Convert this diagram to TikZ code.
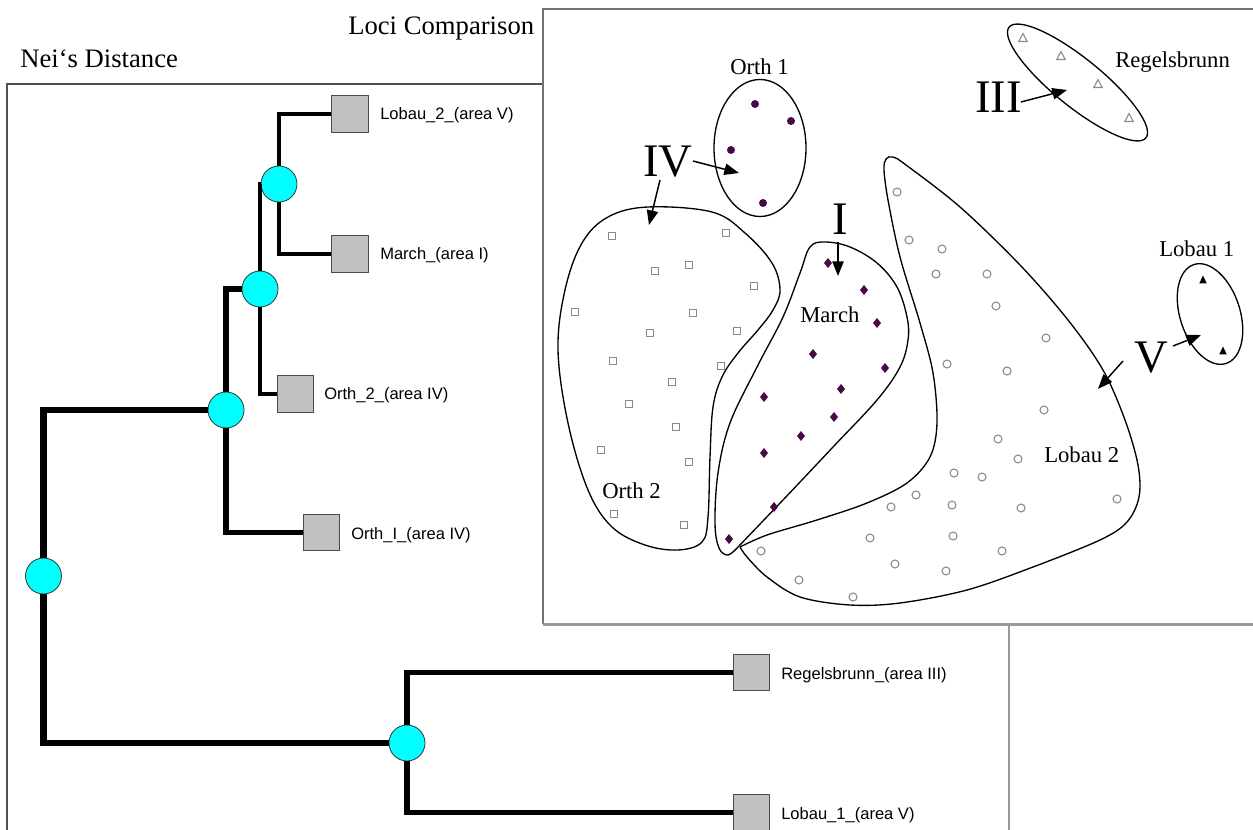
\documentclass[tikz,border=0pt]{standalone}
\usepackage{fontspec}
\setmainfont{Liberation Serif}
\newfontfamily\arialf{Liberation Sans}
\usetikzlibrary{arrows.meta}
\definecolor{nodecyan}{HTML}{00FFFF}
\definecolor{leafgray}{HTML}{C0C0C0}
\definecolor{mkgray}{HTML}{8A8A8A}
\definecolor{dotpurple}{HTML}{4A0A4A}
\definecolor{framedark}{HTML}{505050}
\definecolor{framelight}{HTML}{9A9A9A}
\begin{document}
\begin{tikzpicture}[x=0.75pt,y=-0.75pt,
  junction/.style={circle, fill=nodecyan, draw=black!80, line width=0.6pt, minimum size=27pt, inner sep=0pt},
  leaf/.style={rectangle, fill=leafgray, draw=black!70, line width=0.7pt, minimum size=27.5pt, inner sep=0pt},
  leaflabel/.style={font=\arialf\fontsize{12.4}{14}\selectfont, anchor=base west, inner sep=0pt},
  branchA/.style={line width=4.9pt},
  branchB/.style={line width=4.2pt},
  branchC/.style={line width=3.6pt},
  titletext/.style={font=\fontsize{20}{24}\selectfont, anchor=base west, inner sep=0pt},
  grplabel/.style={font=\fontsize{17}{20}\selectfont, anchor=base west, inner sep=0pt},
  numeral/.style={font=\fontsize{35}{40}\selectfont, anchor=base west, inner sep=0pt},
  callout/.style={-{Triangle[length=11pt,width=8.5pt]}, line width=1.1pt},
  hull/.style={line width=1.0pt},
  openmark/.style={draw=mkgray, line width=0.8pt},
]
\useasboundingbox (0,0) rectangle (1253,830);
\fill[white] (0,0) rectangle (1253,830);

% ---------- frames ----------
\draw[framedark, line width=0.8pt] (543,84) -- (7,84) -- (7,832);
\draw[framelight, line width=1pt] (1009,624) -- (1009,832);
\draw[framedark!80, line width=1pt] (1255,9) -- (543,9) -- (543,624);
\draw[framelight, line width=1.6pt] (543,624.5) -- (1255,624.5);

% ---------- titles ----------
\node[titletext] (nei) at (20,68) {Nei‘s Distance};
\node[titletext] (loci) at (348,35) {Loci Comparison};

% ---------- tree ----------
\node[junction] (R) at (43.5,576) {};
\node[junction] (A) at (226,410) {};
\node[junction] (B) at (260,289) {};
\node[junction] (C) at (279,184) {};
\node[junction] (D) at (407,743) {};

\node[leaf] (l1) at (350,114) {};
\node[leaf] (l2) at (350,254) {};
\node[leaf] (l3) at (295.5,394) {};
\node[leaf] (l4) at (321.5,532.5) {};
\node[leaf] (l5) at (751.5,672.5) {};
\node[leaf] (l6) at (751.5,812.5) {};

\node[leaflabel] (t1) at (380,120) {Lobau\_2\_(area V)};
\node[leaflabel] (t2) at (380,260) {March\_(area I)};
\node[leaflabel] (t3) at (324,400) {Orth\_2\_(area IV)};
\node[leaflabel] (t4) at (351,539) {Orth\_I\_(area IV)};
\node[leaflabel] (t5) at (781,679) {Regelsbrunn\_(area III)};
\node[leaflabel] (t6) at (781,819) {Lobau\_1\_(area V)};

\draw[branchA] (R) |- (A);
\draw[branchA] (R) |- (D);
\draw[branchB] (A) |- (B);
\draw[branchB] (A) |- (l4);
\draw[branchC] (B) |- (C);
\draw[branchC] (B) |- (l3);
\draw[branchC] (C) |- (l1);
\draw[branchC] (C) |- (l2);
\draw[branchB] (D) |- (l5);
\draw[branchB] (D) |- (l6);

% ---------- MDS plot: hulls ----------
% Orth 1
\draw[hull] (760,148) ellipse[x radius=46, y radius=68.5];
% Regelsbrunn
\draw[hull, rotate around={-39:(1077.5,82.5)}] (1077.5,82.5) ellipse[x radius=88, y radius=24];
% Lobau 1
\draw[hull, rotate around={18:(1210,314)}] (1210,314) ellipse[x radius=30, y radius=52];
% Orth 2
\draw[hull] plot[smooth cycle, tension=0.6] coordinates {
  (648,207) (712,212) (745,233) (772,263) (780,290) (773,310) (758,330)
  (738,353) (722,377) (713,407) (710,457) (708,517) (702,542) (678,550)
  (645,545) (612,527) (588,490) (568,423) (558,350) (565,290) (582,243) (608,217)};
% March
\draw[hull] plot[smooth, tension=0.6] coordinates {
  (738,547) (783,500) (833,447) (877,400) (900,367) (908,340) (907,317)
  (897,287) (877,263) (850,247) (825,242) (810,247) (800,273) (783,317)
  (757,367) (730,423) (718,473) (715,523) (719,548) (728,555) (738,547)};
% Lobau 2
\draw[hull] plot[smooth, tension=0.55] coordinates {
  (740,547) (767,535) (817,520) (867,503) (907,483) (930,457) (937,423)
  (933,373) (920,323) (900,257) (888,200) (884,170) (886,159) (893,157)
  (906,165) (960,207) (1020,265) (1068,320) (1103,370) (1125,420)
  (1138,465) (1139,497) (1127,522) (1100,540) (1033,567) (967,590) (900,603)
  (850,605) (800,597) (767,577) (747,557) (740,547)};

% ---------- markers ----------
\foreach \x/\y in {612/236,726/233,655/271,689/265,754/286,575/312,693/313,650/333,737/331,
                   613/361,721/366,672/382,629/404,676/427,601/450,689/462,614/514,684/525}
  \draw[openmark] (\x-3.5,\y-3.5) rectangle (\x+3.5,\y+3.5);

\foreach \x/\y in {897/192,909/240,942/249,936/274,987/274,996/306,1046/338,947/364,1007/371,
                   1044/410,998/439,1018/459,954/473,982/477,916/495,952/505,891/507,1021/508,
                   1117/499,870/538,953/536,1002/551,761/551,895/564,946/571,799/580,853/597}
  \draw[openmark] (\x,\y) circle[radius=4];

\foreach \x/\y in {1023/38,1061/56,1098/84,1129/118}
  \draw[openmark] (\x,\y-4.5) -- (\x+4.2,\y+3.5) -- (\x-4.2,\y+3.5) -- cycle;

\foreach \x/\y in {1203/280,1223/351}
  \fill[black] (\x,\y-4.5) -- (\x+3.8,\y+3.5) -- (\x-3.8,\y+3.5) -- cycle;

\foreach \x/\y in {828/263,864/290,877/323,813/354,885/368,841/389,764/397,834/417,
                   801/436,764/453,774/507,729/539}
  \fill[dotpurple] (\x,\y-5) -- (\x+4,\y) -- (\x,\y+5) -- (\x-4,\y) -- cycle;

\foreach \x/\y in {755/104,791/121,731/150,763/203}
  \fill[dotpurple] (\x,\y) circle[radius=4];

% ---------- labels ----------
\node[grplabel] (gOrth1) at (730,75) {Orth 1};
\node[grplabel] (gReg) at (1115,68) {Regelsbrunn};
\node[grplabel] (gLob1) at (1159,257) {Lobau 1};
\node[grplabel] (gMarch) at (800,323) {March};
\node[grplabel] (gLob2) at (1044,463) {Lobau 2};
\node[grplabel] (gOrth2) at (602,498) {Orth 2};

\node[numeral] (nIV) at (643,177) {IV};
\node[numeral] (nIII) at (975,113) {III};
\node[numeral] (nI) at (832,235) {I};
\node[numeral] (nV) at (1134,373) {V};

% ---------- callout arrows ----------
\coordinate (ivAs) at (693,161);  \coordinate (ivAe) at (739,173);
\coordinate (ivBs) at (660,180);  \coordinate (ivBe) at (649,225);
\coordinate (iiis) at (1021,102); \coordinate (iiie) at (1067,90);
\coordinate (is)   at (838,242);  \coordinate (ie)   at (838,276);
\coordinate (vAs)  at (1173,346); \coordinate (vAe)  at (1201,335);
\coordinate (vBs)  at (1123,361); \coordinate (vBe)  at (1098,389);

\draw[callout] (ivAs) -- (ivAe);
\draw[callout] (ivBs) -- (ivBe);
\draw[callout] (iiis) -- (iiie);
\draw[callout] (is) -- (ie);
\draw[callout] (vAs) -- (vAe);
\draw[callout] (vBs) -- (vBe);
\end{tikzpicture}
\end{document}
